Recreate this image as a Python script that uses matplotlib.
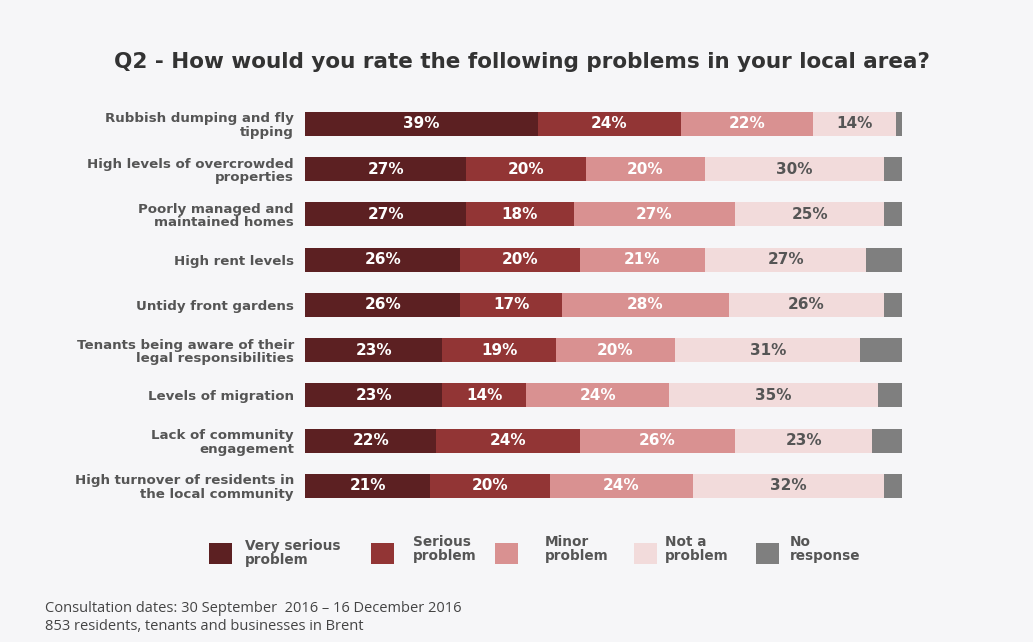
import numpy as np
import matplotlib
matplotlib.use("Agg")
import matplotlib.pyplot as plt
from matplotlib.patches import Rectangle

categories = [
    "Rubbish dumping and fly\ntipping",
    "High levels of overcrowded\nproperties",
    "Poorly managed and\nmaintained homes",
    "High rent levels",
    "Untidy front gardens",
    "Tenants being aware of their\nlegal responsibilities",
    "Levels of migration",
    "Lack of community\nengagement",
    "High turnover of residents in\nthe local community",
]

very_serious = [39, 27, 27, 26, 26, 23, 23, 22, 21]
serious = [24, 20, 18, 20, 17, 19, 14, 24, 20]
minor = [22, 20, 27, 21, 28, 20, 24, 26, 24]
not_a_problem = [14, 30, 25, 27, 26, 31, 35, 23, 32]
no_response = [1, 3, 3, 6, 3, 7, 4, 5, 3]

series_names = ["Very serious\nproblem", "Serious\nproblem", "Minor\nproblem",
                "Not a\nproblem", "No\nresponse"]
series = [very_serious, serious, minor, not_a_problem, no_response]
colors = ["#5c2022", "#923535", "#d99191", "#f2dbdb", "#7f7f7f"]
text_colors = ["white", "white", "white", "#555555", None]

bg = "#f6f6f8"
fig = plt.figure(figsize=(10.33, 6.42), dpi=100, facecolor=bg)
ax = fig.add_axes([0.2953, 0.2078, 0.578, 0.6343])
ax.set_facecolor("none")

y = np.arange(len(categories))
left = np.zeros(len(categories))
for vals, col, tc in zip(series, colors, text_colors):
    vals = np.array(vals, dtype=float)
    ax.barh(y, vals, left=left, height=0.53, color=col, edgecolor="none")
    if tc is not None:
        for yi, l, v in zip(y, left, vals):
            ax.text(l + v / 2, yi, f"{int(v)}%", ha="center", va="center",
                    color=tc, fontsize=11, fontweight="bold")
    left += vals

ax.set_xlim(0, 100)
ax.set_ylim(len(categories) - 0.5, -0.5)
ax.set_yticks(y)
ax.set_yticklabels(categories, fontsize=9.6, fontweight="bold", color="#555555",
                   linespacing=1.05)
ax.tick_params(axis="y", length=0, pad=8)
ax.set_xticks([])
for s in ax.spines.values():
    s.set_visible(False)

fig.text(0.505, 0.903, "Q2 - How would you rate the following problems in your local area?",
         ha="center", va="center", fontsize=15.5, fontweight="bold", color="#333333")

# legend drawn by hand along the bottom
W, H = 1033, 642
sq_x = [209, 371, 495, 634, 756]
txt_x = [245, 413, 545, 665, 790]
txt_y = [553, 549, 549, 549, 549]
for name, col, sx, tx, ty in zip(series_names, colors, sq_x, txt_x, txt_y):
    fig.add_artist(Rectangle((sx / W, 1 - 564 / H), 23 / W, 21 / H,
                             transform=fig.transFigure, color=col, lw=0))
    fig.text(tx / W, 1 - ty / H, name, ha="left", va="center", fontsize=9.8,
             fontweight="bold", color="#555555", linespacing=0.95)

fig.text(45 / W, 1 - 608 / H, "Consultation dates: 30 September  2016 \u2013 16 December 2016",
         ha="left", va="center", fontsize=10.5, color="#444444", family="Open Sans")
fig.text(45 / W, 1 - 626 / H, "853 residents, tenants and businesses in Brent",
         ha="left", va="center", fontsize=10.5, color="#444444", family="Open Sans")

fig.savefig("out.png", dpi=100, facecolor=bg)
